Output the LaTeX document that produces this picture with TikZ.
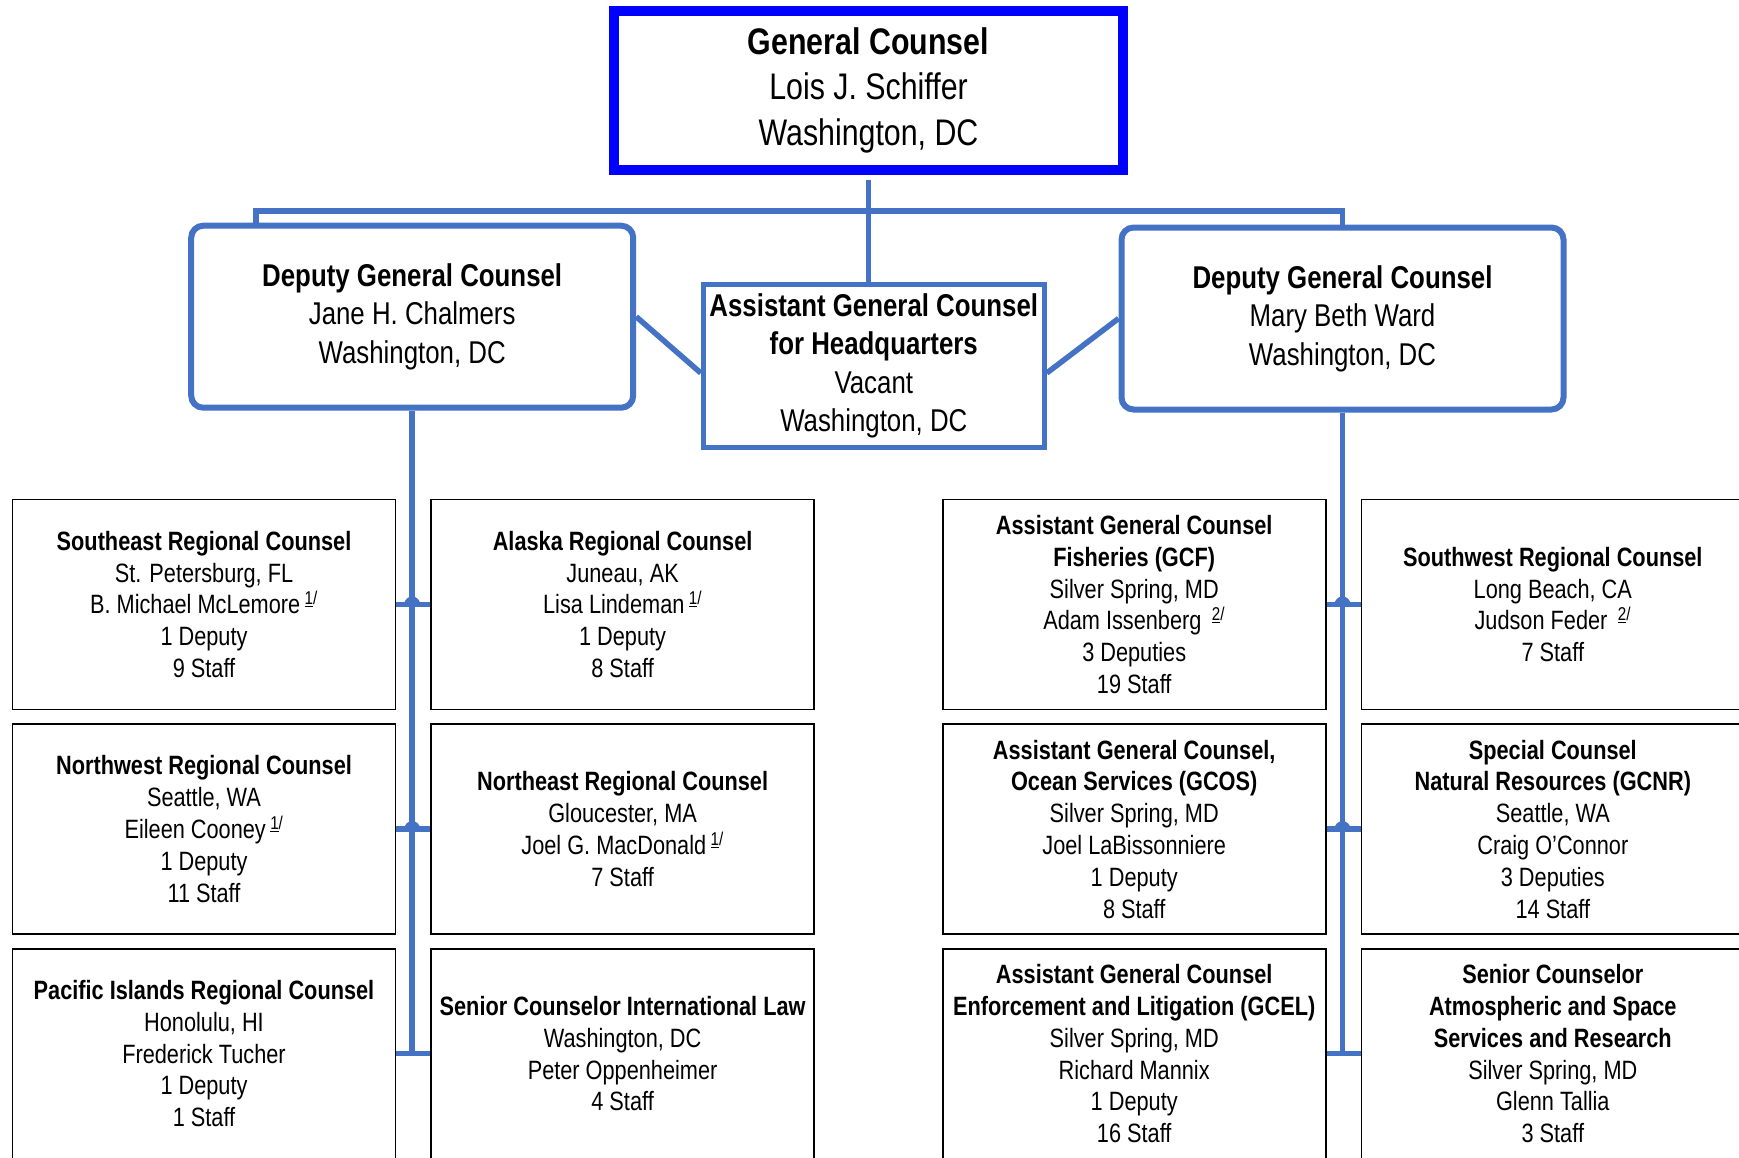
\documentclass[tikz,border=0pt]{standalone}
\usepackage{fontspec}
\setmainfont{Liberation Sans}[FakeStretch=0.82]
\usepackage{tikz}
\usetikzlibrary{positioning}
\definecolor{noaa_blue}{HTML}{4472C4}
\colorlet{linkblue}{noaa_blue}
\newcommand{\fnmark}[1]{\,\textsuperscript{\underline{#1}/}}
\tikzset{
  counsel/.style={draw=blue,line width=10pt,minimum width=509pt,minimum height=159pt,inner sep=0pt,align=center,font=\fontsize{37}{45.5}\selectfont},
  deputy/.style={draw=linkblue,line width=6pt,rounded corners=12pt,minimum width=442pt,minimum height=182pt,inner sep=0pt,align=center,font=\fontsize{31.5}{38.5}\selectfont},
  assistant/.style={draw=linkblue,line width=5pt,minimum width=341pt,minimum height=163pt,inner sep=0pt,align=center,font=\fontsize{31.5}{38.5}\selectfont},
  office/.style={draw=black,line width=1.6pt,minimum width=383pt,minimum height=210pt,inner sep=0pt,align=center,font=\fontsize{26.5}{31.8}\selectfont},
  link/.style={linkblue,line width=5.5pt},
  hop/.style={fill=linkblue},
}

\begin{document}
\begin{tikzpicture}[x=1pt,y=-1pt]
	\useasboundingbox (0,0) rectangle (1739,1157);
	\clip (0,0) rectangle (1739,1157);
	% top level
	\node[counsel] (GC) at (868.5,90) {\textbf{General Counsel}\\Lois J. Schiffer\\Washington, DC};
	\node[deputy] (DGC1) at (412.2,316.7) {\textbf{Deputy General Counsel}\\Jane H. Chalmers\\Washington, DC};
	\node[assistant] (AGCHQ) at (873.8,366) {\textbf{Assistant General Counsel}\\\textbf{for Headquarters}\\Vacant\\Washington, DC};
	\node[deputy] (DGC2) at (1342.5,318.5) {\textbf{Deputy General Counsel}\\Mary Beth Ward\\Washington, DC};
	% regional offices
	\node[office] (SERC) at (204,604.5) {\textbf{Southeast Regional Counsel}\\St. Petersburg, FL\\B. Michael McLemore\fnmark{1}\\1 Deputy\\9 Staff};
	\node[office,right=34pt of SERC] (AKRC) {\textbf{Alaska Regional Counsel}\\Juneau, AK\\Lisa Lindeman\fnmark{1}\\1 Deputy\\8 Staff};
	\node[office,below=13pt of SERC] (NWRC) {\textbf{Northwest Regional Counsel}\\Seattle, WA\\Eileen Cooney\fnmark{1}\\1 Deputy\\11 Staff};
	\node[office,below=13pt of AKRC] (NERC) {\textbf{Northeast Regional Counsel}\\Gloucester, MA\\Joel G. MacDonald\fnmark{1}\\7 Staff};
	\node[office,below=13pt of NWRC] (PIRC) {\textbf{Pacific Islands Regional Counsel}\\Honolulu, HI\\Frederick Tucher\\1 Deputy\\1 Staff};
	\node[office,below=13pt of NERC] (SCIL) {\textbf{Senior Counselor International Law}\\Washington, DC\\Peter Oppenheimer\\4 Staff};
	% headquarters offices
	\node[office,right=127pt of AKRC] (GCF) {\textbf{Assistant General Counsel}\\\textbf{Fisheries (GCF)}\\Silver Spring, MD\\Adam Issenberg \fnmark{2}\\3 Deputies\\19 Staff};
	\node[office,right=34pt of GCF] (SWRC) {\textbf{Southwest Regional Counsel}\\Long Beach, CA\\Judson Feder \fnmark{2}\\7 Staff};
	\node[office,below=13pt of GCF] (GCOS) {\textbf{Assistant General Counsel,}\\\textbf{Ocean Services (GCOS)}\\Silver Spring, MD\\Joel LaBissonniere\\1 Deputy\\8 Staff};
	\node[office,below=13pt of SWRC] (GCNR) {\textbf{Special Counsel}\\\textbf{Natural Resources (GCNR)}\\Seattle, WA\\Craig O’Connor\\3 Deputies\\14 Staff};
	\node[office,below=13pt of GCOS] (GCEL) {\textbf{Assistant General Counsel}\\\textbf{Enforcement and Litigation (GCEL)}\\Silver Spring, MD\\Richard Mannix\\1 Deputy\\16 Staff};
	\node[office,below=13pt of GCNR] (SCAS) {\textbf{Senior Counselor}\\\textbf{Atmospheric and Space}\\\textbf{Services and Research}\\Silver Spring, MD\\Glenn Tallia\\3 Staff};
	% connectors
	\coordinate (BUS) at (256,211);
	\draw[link] (BUS |- DGC1.north) -- (BUS) -- (BUS -| DGC2.north) -- (DGC2.north);
	\draw[link,shorten <=5pt] (GC.south) -- (GC.south |- AGCHQ.north);
	\draw[link] (DGC1.east) -- ([yshift=-7pt]AGCHQ.west);
	\draw[link] ([yshift=-7pt]AGCHQ.east) -- (DGC2.west);
	\draw[link] (DGC1.south) -- (DGC1.south |- PIRC.east);
	\draw[link] (DGC2.south) -- (DGC2.south |- GCEL.east);
	\foreach \a/\b in {SERC/AKRC,NWRC/NERC,PIRC/SCIL,GCF/SWRC,GCOS/GCNR,GCEL/SCAS}
		\draw[link] (\a.east) -- (\b.west);
	\foreach \a in {SERC,NWRC}
		\fill[hop] (DGC1.south |- \a.east) ++(-8pt,0) arc[start angle=180,end angle=0,radius=8pt];
	\foreach \a in {GCF,GCOS}
		\fill[hop] (DGC2.south |- \a.east) ++(-8pt,0) arc[start angle=180,end angle=0,radius=8pt];
\end{tikzpicture}
\end{document}
